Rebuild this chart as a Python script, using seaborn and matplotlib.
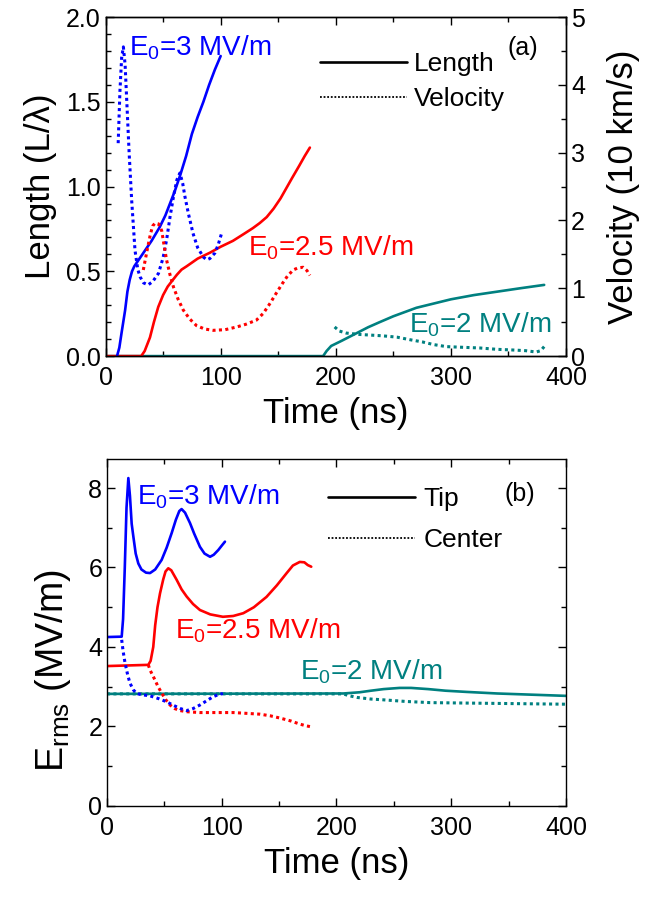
import numpy as np
import pandas as pd
import matplotlib
matplotlib.use("Agg")
import matplotlib.pyplot as plt
import seaborn as sns
from matplotlib.lines import Line2D
from matplotlib.ticker import MultipleLocator

# ---- (a) length / velocity data ----
t_len3 = [10, 12, 14, 17, 19, 21, 23, 25, 30, 35, 40, 47, 52, 56, 60, 65, 70, 75, 80, 85, 90, 95, 100]
len3 = [0, 0.05, 0.14, 0.27, 0.38, 0.45, 0.5, 0.53, 0.58, 0.63, 0.68, 0.76, 0.83, 0.9, 0.97, 1.07,
        1.18, 1.31, 1.41, 1.5, 1.6, 1.69, 1.77]
t_vel3 = [11, 12.5, 14, 15.5, 17, 18.4, 20.5, 22.7, 25.6, 28, 30, 33, 37, 41, 46, 50, 53, 56, 59,
          62, 64.6, 67, 69, 72, 76, 80, 85, 88, 90.7, 95, 98, 100.8]
vel3 = [3.14, 3.9, 4.4, 4.56, 4.3, 3.78, 3.0, 2.3, 1.56, 1.28, 1.17, 1.08, 1.05, 1.1, 1.22, 1.45,
        1.71, 2.05, 2.35, 2.6, 2.7, 2.55, 2.35, 2.1, 1.81, 1.6, 1.46, 1.42, 1.44, 1.52, 1.65, 1.81]

t_len25 = [0, 31, 34, 38.6, 42, 45.8, 50, 54, 57.4, 62, 66, 70.5, 80, 90.7, 100, 110.7, 120, 128,
           134, 140, 146, 152, 157, 162, 168, 173, 177.5]
len25 = [0, 0, 0.03, 0.11, 0.2, 0.29, 0.36, 0.41, 0.44, 0.48, 0.51, 0.53, 0.575, 0.61, 0.645, 0.68,
         0.72, 0.755, 0.785, 0.82, 0.87, 0.93, 0.99, 1.05, 1.12, 1.18, 1.23]
t_vel25 = [32.8, 36, 39, 41, 43, 46, 48.8, 51, 53, 56, 59, 63, 67.5, 73, 79, 86, 93.5, 104, 114,
           122, 131, 137, 143, 148, 154, 158, 163, 167, 171.6, 175, 177.5]
vel25 = [1.27, 1.55, 1.8, 1.92, 1.96, 1.95, 1.85, 1.62, 1.42, 1.2, 1.02, 0.84, 0.68, 0.55, 0.45,
         0.4, 0.38, 0.39, 0.43, 0.47, 0.53, 0.63, 0.78, 0.92, 1.08, 1.18, 1.27, 1.3, 1.31, 1.26, 1.19]

t_len2 = [0, 189, 192, 196, 205, 218, 228, 238, 250, 260, 270, 285, 300, 320, 340, 360, 381]
len2 = [0, 0, 0.03, 0.06, 0.09, 0.135, 0.17, 0.2, 0.235, 0.26, 0.285, 0.31, 0.335, 0.36, 0.38,
        0.4, 0.42]
t_vel2 = [199, 203, 209, 220, 230, 240, 253, 265, 275, 285, 296, 310, 325, 340, 354, 365, 374,
          378, 381]
vel2 = [0.43, 0.37, 0.34, 0.32, 0.31, 0.3, 0.28, 0.24, 0.21, 0.17, 0.14, 0.13, 0.12, 0.1, 0.09,
        0.08, 0.06, 0.08, 0.14]

# ---- (b) field at tip / center ----
t_tip3 = [0, 12.8, 14, 15.5, 17, 18.6, 20, 21.5, 23, 25, 27.3, 30, 34, 37.5, 42, 47.6, 52, 56.4,
          60, 63, 65, 68, 72.3, 76, 81, 85, 89.8, 93, 97, 100, 102.8]
tip3 = [4.25, 4.26, 4.7, 6.0, 7.5, 8.25, 7.8, 7.1, 6.77, 6.35, 6.1, 5.95, 5.87, 5.86, 5.95, 6.19,
        6.5, 6.87, 7.2, 7.42, 7.47, 7.38, 7.12, 6.85, 6.52, 6.35, 6.27, 6.32, 6.44, 6.55, 6.65]
t_cen3 = [12.8, 14, 15.7, 18, 20, 23, 25.8, 30, 37.5, 45, 52, 58, 64, 69.5, 75, 81, 87, 92.6, 97, 101]
cen3 = [4.18, 3.9, 3.6, 3.3, 3.09, 2.92, 2.83, 2.8, 2.77, 2.7, 2.62, 2.53, 2.45, 2.4, 2.45, 2.54,
        2.65, 2.75, 2.8, 2.83]

t_tip25 = [0, 36, 38, 40.3, 42, 44, 46.2, 49, 51, 53.4, 56, 60.7, 65, 69.4, 75, 81, 90, 101, 110,
           118.8, 128, 139, 148, 156.6, 162, 168, 172, 175, 178]
tip25 = [3.52, 3.55, 3.65, 4.0, 4.55, 5.0, 5.35, 5.7, 5.9, 5.98, 5.93, 5.69, 5.45, 5.27, 5.08,
         4.93, 4.82, 4.76, 4.78, 4.85, 5.0, 5.26, 5.55, 5.86, 6.05, 6.14, 6.13, 6.06, 6.02]
t_cen25 = [36, 37.5, 41.8, 44.5, 47.7, 51, 54.9, 59, 63.6, 70, 81, 110, 133, 142, 151, 160, 168,
           173, 178]
cen25 = [3.55, 3.42, 3.17, 3.0, 2.84, 2.68, 2.54, 2.45, 2.4, 2.37, 2.35, 2.35, 2.31, 2.27, 2.21,
         2.14, 2.06, 2.02, 1.99]

t_tip2 = [0, 206, 220, 230, 241, 255, 265, 280, 295, 313, 340, 370, 400]
tip2 = [2.82, 2.83, 2.86, 2.9, 2.94, 2.97, 2.97, 2.94, 2.9, 2.87, 2.83, 2.8, 2.77]
t_cen2 = [0, 206, 210, 218, 230, 241, 260, 281.5, 310, 340, 370, 400]
cen2 = [2.82, 2.82, 2.78, 2.73, 2.69, 2.67, 2.63, 2.6, 2.59, 2.58, 2.57, 2.56]

blue = "#0000FF"
red = "#FF0000"
teal = "#008080"
solid_lw = 1.9
dot = (0, (1, 1.1))
dot_lw = 2.2

sns.set_theme(style="ticks")
plt.rcParams["font.family"] = ["Liberation Sans", "DejaVu Sans"]
plt.rcParams["mathtext.default"] = "regular"
plt.rcParams["axes.linewidth"] = 1.0
plt.rcParams["axes.edgecolor"] = "black"
for key in ["text.color", "axes.labelcolor", "xtick.color", "ytick.color"]:
    plt.rcParams[key] = "black"

fig = plt.figure(figsize=(6.45, 8.97), dpi=100)
ax1 = fig.add_axes([0.1636, 0.603, 0.714, 0.378])
ax1r = ax1.twinx()
ax2 = fig.add_axes([0.1659, 0.1015, 0.7116, 0.3868])


def curve(ax, t, y, color, solid=True):
    df = pd.DataFrame({"t": t, "y": y})
    if solid:
        sns.lineplot(data=df, x="t", y="y", ax=ax, color=color, lw=solid_lw)
    else:
        sns.lineplot(data=df, x="t", y="y", ax=ax, color=color, lw=dot_lw, linestyle=dot)


def style_ticks(ax, **kw):
    ax.tick_params(which="both", direction="in", labelsize=18, width=1, **kw)
    ax.tick_params(which="major", length=5.5)
    ax.tick_params(which="minor", length=3.5)
    ax.tick_params(axis="x", pad=7)


# panel (a)
curve(ax1, t_len2, len2, teal)
curve(ax1, t_len25, len25, red)
curve(ax1, t_len3, len3, blue)
curve(ax1r, t_vel3, vel3, blue, solid=False)
curve(ax1r, t_vel25, vel25, red, solid=False)
curve(ax1r, t_vel2, vel2, teal, solid=False)

ax1.set_xlim(0, 400)
ax1.set_ylim(0, 2)
ax1r.set_ylim(0, 5)
ax1.set_xlabel("Time (ns)", fontsize=25, labelpad=5)
ax1.set_ylabel("Length (L/λ)", fontsize=25, labelpad=6)
ax1r.set_ylabel("Velocity (10 km/s)", fontsize=25, labelpad=16)
ax1.xaxis.set_major_locator(MultipleLocator(100))
ax1.xaxis.set_minor_locator(MultipleLocator(50))
ax1.yaxis.set_major_locator(MultipleLocator(0.5))
ax1.yaxis.set_minor_locator(MultipleLocator(0.1))
ax1r.yaxis.set_major_locator(MultipleLocator(1))
ax1r.yaxis.set_minor_locator(MultipleLocator(0.5))
style_ticks(ax1, top=True, right=False)
style_ticks(ax1r)

ax1.text(20.4, 1.82, "E$_0$=3 MV/m", color=blue, fontsize=20, va="center", ha="left")
ax1.text(123.6, 0.64, "E$_0$=2.5 MV/m", color=red, fontsize=20, va="center", ha="left")
ax1.text(264, 0.183, "E$_0$=2 MV/m", color=teal, fontsize=20, va="center", ha="left")
ax1.text(0.907, 0.91, "(a)", transform=ax1.transAxes, fontsize=18, ha="center", va="center")

h_a = [Line2D([], [], color="black", lw=1.9),
       Line2D([], [], color="black", lw=1.3, linestyle=(0, (1, 1)))]
ax1.legend(h_a, ["Length", "Velocity"], loc="upper left", bbox_to_anchor=(0.466, 0.897),
           frameon=False, fontsize=19, handlelength=3.3, handletextpad=0.25,
           labelspacing=0.42, borderpad=0, borderaxespad=0)

# panel (b)
curve(ax2, t_tip2, tip2, teal)
curve(ax2, t_cen2, cen2, teal, solid=False)
curve(ax2, t_tip25, tip25, red)
curve(ax2, t_cen25, cen25, red, solid=False)
curve(ax2, t_tip3, tip3, blue)
curve(ax2, t_cen3, cen3, blue, solid=False)

ax2.set_xlim(0, 400)
ax2.set_ylim(0, 8.73)
ax2.set_xlabel("Time (ns)", fontsize=25, labelpad=5)
ax2.set_ylabel("E$_{rms}$ (MV/m)", fontsize=27)
ax2.yaxis.set_label_coords(-0.075, 0.39)
ax2.xaxis.set_major_locator(MultipleLocator(100))
ax2.xaxis.set_minor_locator(MultipleLocator(50))
ax2.yaxis.set_major_locator(MultipleLocator(2))
ax2.yaxis.set_minor_locator(MultipleLocator(1))
style_ticks(ax2, top=True, right=True)

ax2.text(26.4, 7.77, "E$_0$=3 MV/m", color=blue, fontsize=20, va="center", ha="left")
ax2.text(59.3, 4.4, "E$_0$=2.5 MV/m", color=red, fontsize=20, va="center", ha="left")
ax2.text(168, 3.37, "E$_0$=2 MV/m", color=teal, fontsize=20, va="center", ha="left")
ax2.text(0.9, 0.9, "(b)", transform=ax2.transAxes, fontsize=18, ha="center", va="center")

h_b = [Line2D([], [], color="black", lw=1.9),
       Line2D([], [], color="black", lw=1.3, linestyle=(0, (1, 1)))]
ax2.legend(h_b, ["Tip", "Center"], loc="upper left", bbox_to_anchor=(0.482, 0.92),
           frameon=False, fontsize=19, handlelength=3.3, handletextpad=0.3,
           labelspacing=0.65, borderpad=0, borderaxespad=0)

fig.savefig("out.png", dpi=100)
